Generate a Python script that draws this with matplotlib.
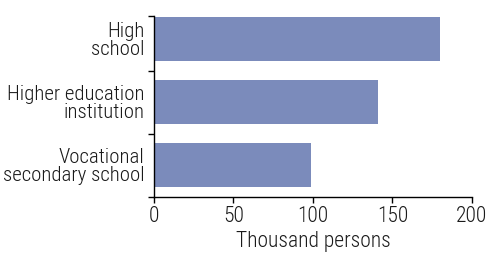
import matplotlib
matplotlib.use('Agg')
import matplotlib.pyplot as plt
from matplotlib.ticker import FixedLocator

plt.rcParams['font.family'] = ['Roboto Condensed', 'Archivo Narrow', 'Liberation Sans Narrow',
                               'Roboto', 'DejaVu Sans']
plt.rcParams['font.weight'] = 'light'
plt.rcParams['axes.labelweight'] = 'light'

categories = ['Vocational\nsecondary school', 'Higher education\ninstitution', 'High\nschool']
values = [99, 141, 180]
xticks = [0, 50, 100, 150, 200]

bar_color = '#7b8bbb'


def main():
    fig = plt.figure(figsize=(4.89, 2.59), dpi=100)
    ax = fig.add_axes([0.3149, 0.2413, 0.6503, 0.7297])

    pos = list(range(len(categories)))
    ax.barh(pos, values, height=0.7, color=bar_color)

    ax.set_xlim(0, 200)
    ax.set_ylim(-0.5, 2.5)
    ax.set_xticks(xticks)
    ax.set_yticks(pos)
    ax.set_yticklabels(categories, fontsize=15, linespacing=0.95, color='#1a1a1a')
    ax.tick_params(axis='y', which='major', length=0, pad=7)
    ax.yaxis.set_minor_locator(FixedLocator([-0.5, 0.5, 1.5, 2.365]))
    ax.tick_params(axis='y', which='minor', length=4, width=1, direction='out')
    ax.tick_params(axis='x', length=4, width=1, direction='out', labelsize=15.5, pad=3,
                   labelcolor='#1a1a1a')

    ax.set_xlabel('Thousand persons', fontsize=15.5, fontweight='light', labelpad=3,
                  color='#1a1a1a')

    for s in ('top', 'right'):
        ax.spines[s].set_visible(False)
    ax.spines['left'].set_bounds(-0.5, 2.365)
    ax.spines['left'].set_linewidth(1)
    ax.spines['bottom'].set_linewidth(1)

    fig.savefig('out.png', dpi=100)


if __name__ == '__main__':
    main()
